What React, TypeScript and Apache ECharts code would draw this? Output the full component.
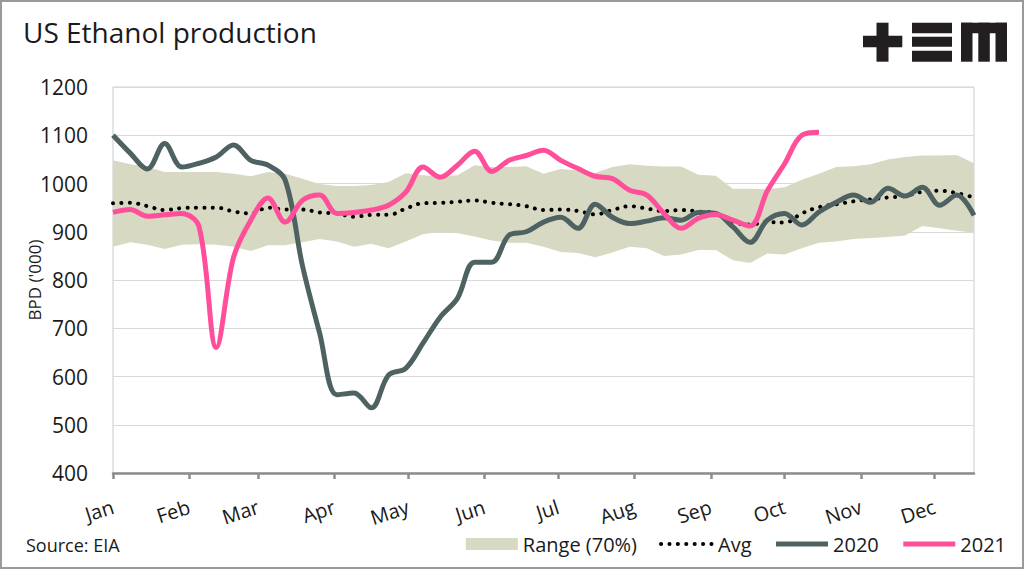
import React, { useEffect, useRef } from 'react';
import * as echarts from 'echarts';

const months = ['Jan', 'Feb', 'Mar', 'Apr', 'May', 'Jun', 'Jul', 'Aug', 'Sep', 'Oct', 'Nov', 'Dec'];
const monthStartDays = [0, 31, 59, 90, 120, 151, 181, 212, 243, 273, 304, 334];
const weekStepDays = 7;

const y2020 = [1100, 1063, 1030, 1083, 1034, 1042, 1055, 1080, 1048, 1038, 1007, 830, 690, 562, 566, 535, 603, 617, 669, 723, 762, 837, 837, 893, 900, 920, 930, 907, 957, 930, 917, 922, 929, 924, 940, 938, 910, 878, 924, 938, 914, 941, 961, 976, 961, 990, 974, 992, 955, 976, 934];
const y2021 = [940, 946, 932, 935, 938, 910, 660, 847, 924, 970, 920, 965, 976, 938, 940, 945, 955, 982, 1034, 1013, 1038, 1067, 1025, 1048, 1058, 1069, 1048, 1031, 1015, 1010, 986, 976, 938, 907, 928, 936, 924, 912, 985, 1041, 1100, 1106];
const avg = [959, 960, 953, 945, 949, 950, 950, 942, 938, 950, 946, 946, 940, 938, 931, 935, 935, 948, 959, 960, 962, 965, 960, 957, 953, 945, 946, 943, 936, 945, 953, 948, 943, 945, 942, 938, 920, 915, 920, 919, 938, 951, 957, 963, 967, 971, 974, 983, 985, 980, 971];
const rangeUpper = [1048, 1040, 1034, 1024, 1024, 1024, 1024, 1020, 1015, 1024, 1020, 1010, 999, 995, 995, 997, 1003, 1021, 1017, 1014, 1017, 1038, 1034, 1034, 1036, 1020, 1030, 1027, 1022, 1034, 1040, 1037, 1035, 1035, 1018, 1016, 989, 989, 988, 992, 1008, 1020, 1034, 1036, 1040, 1050, 1055, 1058, 1058, 1059, 1042];
const rangeLower = [869, 878, 873, 864, 873, 874, 873, 869, 860, 872, 872, 878, 885, 880, 869, 875, 866, 880, 895, 900, 897, 890, 882, 877, 877, 869, 858, 856, 847, 857, 869, 866, 850, 853, 862, 862, 841, 835, 855, 853, 866, 877, 880, 885, 887, 889, 892, 912, 907, 902, 898];

const FONT = '"Open Sans", Lato, sans-serif';
const C2020 = '#4E6262';
const C2021 = '#FF4F9A';
const CBAND = '#D8D9C3';
const INK = '#1a1a1a';

export default function App() {
  const ref = useRef<HTMLDivElement>(null);
  useEffect(() => {
    if (!ref.current) return;
    const chart = echarts.init(ref.current, null, { renderer: 'svg' });
    const pts = (arr: number[]) => arr.map((v, i) => [i * weekStepDays, v]);
    const logo = '#231F20';
    const hideSym = { opacity: 0 };
    chart.setOption({
      animation: false,
      backgroundColor: '#fff',
      textStyle: { fontFamily: FONT },
      title: [
        { text: 'US Ethanol production', left: 18, top: 13, textStyle: { fontSize: 28, fontWeight: 'normal', color: INK, fontFamily: FONT } },
        { text: 'Source: EIA', left: 21, top: 531, textStyle: { fontSize: 18, fontWeight: 'normal', color: INK, fontFamily: FONT } },
      ],
      grid: { left: 113, right: 50, top: 87, bottom: 96, show: true, borderColor: '#d4d4d4', borderWidth: 1.2, backgroundColor: 'transparent' },
      legend: {
        right: 13, top: 529, itemWidth: 52, itemHeight: 12, itemGap: 22,
        textStyle: { fontSize: 20, color: INK, fontFamily: FONT },
        data: [
          { name: 'Range (70%)', icon: 'rect', itemStyle: { color: CBAND } },
          { name: 'Avg', itemStyle: hideSym, lineStyle: { width: 4 } },
          { name: '2020', itemStyle: hideSym, lineStyle: { width: 5 } },
          { name: '2021', itemStyle: hideSym, lineStyle: { width: 5 } },
        ],
      },
      xAxis: {
        type: 'value', min: 0, max: 350,
        axisLine: { show: true, lineStyle: { color: '#8c8c8c', width: 2.5 } },
        axisTick: { show: true, customValues: monthStartDays, length: 6, lineStyle: { color: '#8c8c8c', width: 2.5 } },
        axisLabel: {
          customValues: monthStartDays,
          formatter: (v: number) => { const i = monthStartDays.indexOf(Math.round(v)); return i >= 0 ? months[i] : ''; },
          rotate: 18, margin: 33, fontSize: 20, color: INK, fontFamily: FONT,
        },
        splitLine: { show: false },
      },
      yAxis: {
        type: 'value', min: 400, max: 1200, interval: 100,
        name: "BPD ('000)", nameLocation: 'middle', nameGap: 70, nameMoveOverlap: false,
        nameTextStyle: { fontSize: 17, color: INK, fontFamily: FONT },
        axisLine: { show: false }, axisTick: { show: false },
        axisLabel: { fontSize: 21, color: INK, margin: 25, fontFamily: FONT, formatter: (v: number) => String(v) },
        splitLine: { lineStyle: { color: '#d9d9d9', width: 1.2 } },
      },
      series: [
        {
          name: 'Range (70%)', type: 'custom', silent: true, z: 1,
          itemStyle: { color: CBAND },
          data: [[0, rangeUpper[0]]],
          renderItem: (_params: any, api: any) => {
            const up = rangeUpper.map((v, i) => api.coord([i * weekStepDays, v]));
            const lo = rangeLower.map((v, i) => api.coord([i * weekStepDays, v])).reverse();
            return { type: 'polygon', shape: { points: up.concat(lo) }, style: { fill: CBAND } };
          },
        },
        { name: 'Avg', type: 'line', data: pts(avg), symbol: 'none', smooth: 0.4, itemStyle: { color: '#000' }, lineStyle: { color: '#000', width: 4, type: [0.1, 8.3], cap: 'round' }, z: 2 },
        { name: '2020', type: 'line', data: pts(y2020), symbol: 'none', smooth: 0.35, itemStyle: { color: C2020 }, lineStyle: { color: C2020, width: 5 }, z: 3 },
        { name: '2021', type: 'line', data: pts(y2021), symbol: 'none', smooth: 0.35, itemStyle: { color: C2021 }, lineStyle: { color: C2021, width: 5 }, z: 4 },
      ],
      graphic: [
        { type: 'rect', shape: { x: 1, y: 1, width: 1022, height: 567 }, style: { fill: 'none', stroke: '#9a9a9a', lineWidth: 2 }, silent: true },
        { type: 'rect', shape: { x: 863, y: 35.7, width: 39.3, height: 11.6 }, style: { fill: logo } },
        { type: 'rect', shape: { x: 876.5, y: 22.7, width: 12, height: 39 }, style: { fill: logo } },
        { type: 'rect', shape: { x: 912, y: 22.7, width: 40, height: 10.6 }, style: { fill: logo } },
        { type: 'rect', shape: { x: 912, y: 36.7, width: 40, height: 10 }, style: { fill: logo } },
        { type: 'rect', shape: { x: 912, y: 50.7, width: 40, height: 11 }, style: { fill: logo } },
        { type: 'rect', shape: { x: 961, y: 22.7, width: 46, height: 10.6 }, style: { fill: logo } },
        { type: 'rect', shape: { x: 961, y: 22.7, width: 11.5, height: 39 }, style: { fill: logo } },
        { type: 'rect', shape: { x: 978.3, y: 22.7, width: 11.5, height: 39 }, style: { fill: logo } },
        { type: 'rect', shape: { x: 995.5, y: 22.7, width: 11.5, height: 39 }, style: { fill: logo } },
      ],
    });
    return () => chart.dispose();
  }, []);
  return <div ref={ref} style={{ position: 'fixed', left: 0, top: 0, width: 1024, height: 569, background: '#fff' }} />;
}
